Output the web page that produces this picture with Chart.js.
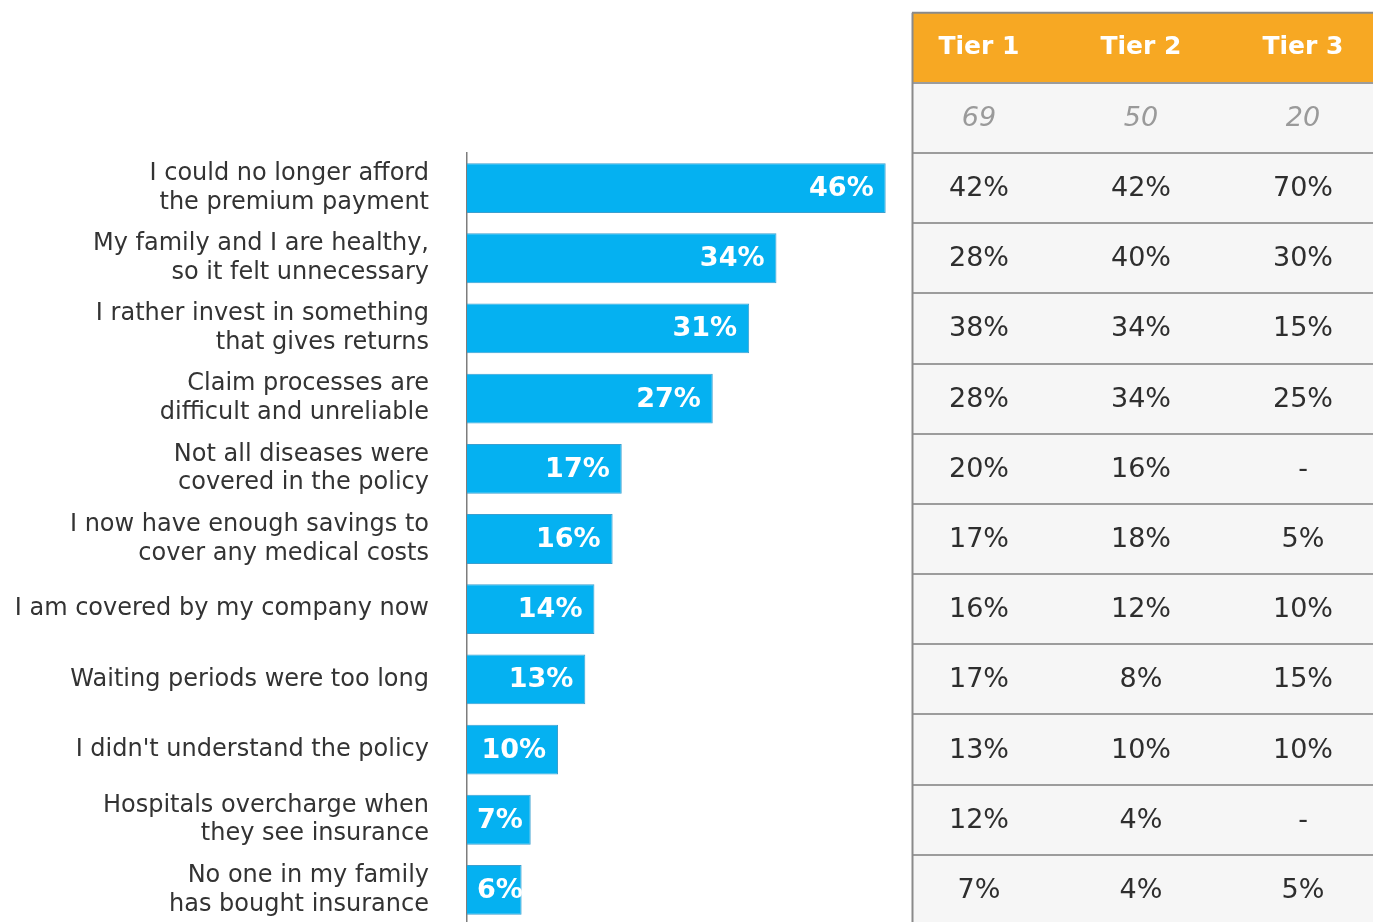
<!DOCTYPE html>
<html>
<head>
<meta charset="utf-8">
<script src="https://cdn.jsdelivr.net/npm/chart.js@4.4.1/dist/chart.umd.min.js"></script>
<style>
  html, body { margin: 0; padding: 0; background: #fff; overflow: hidden; }
  canvas { display: block; }
</style>
</head>
<body>
<canvas id="chart" width="1373" height="925"></canvas>
<script>
// --- Data ---
const reasons = [
  ['I could no longer afford', 'the premium payment'],
  ['My family and I are healthy,', 'so it felt unnecessary'],
  ['I rather invest in something', 'that gives returns'],
  ['Claim processes are', 'difficult and unreliable'],
  ['Not all diseases were', 'covered in the policy'],
  ['I now have enough savings to', 'cover any medical costs'],
  'I am covered by my company now',
  'Waiting periods were too long',
  "I didn't understand the policy",
  ['Hospitals overcharge when', 'they see insurance'],
  ['No one in my family', 'has bought insurance']
];
const overall = [46, 34, 31, 27, 17, 16, 14, 13, 10, 7, 6];

const tierNames = ['Tier 1', 'Tier 2', 'Tier 3'];
const tierSamples = [69, 50, 20];
const tier1 = [42, 28, 38, 28, 20, 17, 16, 17, 13, 12, 7];
const tier2 = [42, 40, 34, 34, 16, 18, 12, 8, 10, 4, 4];
const tier3 = [70, 30, 15, 25, null, 5, 10, 15, 10, null, 5];

const FONT = '"DejaVu Sans", sans-serif';

// white % labels at the end of each bar
const barValues = {
  id: 'barValues',
  afterDatasetsDraw(chart) {
    const ctx = chart.ctx;
    const meta = chart.getDatasetMeta(0);
    ctx.save();
    ctx.font = 'bold 27px ' + FONT;
    ctx.fillStyle = '#fff';
    ctx.textAlign = 'right';
    ctx.textBaseline = 'middle';
    meta.data.forEach((bar, i) => {
      const txt = overall[i] + '%';
      const w = ctx.measureText(txt).width;
      const x = Math.max(bar.x - 12, bar.base + 10 + w);
      ctx.fillText(txt, x, bar.y + 1);
    });
    ctx.restore();
  }
};

// tier breakdown table to the right, rows follow the y scale
const tierTable = {
  id: 'tierTable',
  afterDraw(chart) {
    const ctx = chart.ctx;
    const y = chart.scales.y;
    const pitch = y.getPixelForValue(1) - y.getPixelForValue(0);
    const left = 912, right = chart.width;
    const cols = [979, 1141, 1303];
    const top = y.getPixelForValue(0) - pitch / 2;
    const tiers = [tier1, tier2, tier3];

    ctx.save();
    // body background
    ctx.fillStyle = '#f6f6f6';
    ctx.fillRect(left, top - pitch, right - left, chart.height);
    // header
    ctx.fillStyle = '#F7A823';
    ctx.fillRect(left, top - 2 * pitch, right - left, pitch);

    ctx.textAlign = 'center';
    ctx.textBaseline = 'middle';
    ctx.font = 'bold 25px ' + FONT;
    ctx.fillStyle = '#fff';
    tierNames.forEach((t, c) => ctx.fillText(t, cols[c], top - 1.5 * pitch));

    ctx.font = 'oblique 27px ' + FONT;
    ctx.fillStyle = '#9a9a9a';
    tierSamples.forEach((n, c) => ctx.fillText(String(n), cols[c], top - 0.5 * pitch + 1));

    ctx.font = '27px ' + FONT;
    ctx.fillStyle = '#2e2e2e';
    reasons.forEach((r, i) => {
      const cy = y.getPixelForValue(i);
      tiers.forEach((vals, c) => {
        const v = vals[i];
        ctx.fillText(v == null ? '-' : v + '%', cols[c], cy + 1);
      });
    });

    // separators
    ctx.strokeStyle = '#9c9c9c';
    ctx.lineWidth = 2;
    for (let i = -1; i <= reasons.length; i++) {
      const ly = Math.round(top + i * pitch);
      ctx.beginPath();
      ctx.moveTo(left, ly);
      ctx.lineTo(right, ly);
      ctx.stroke();
    }
    ctx.strokeStyle = '#8a8a8a';
    ctx.beginPath();
    ctx.moveTo(left, top - 2 * pitch);
    ctx.lineTo(right, top - 2 * pitch);
    ctx.moveTo(left + 0.5, top - 2 * pitch);
    ctx.lineTo(left + 0.5, chart.height);
    ctx.stroke();
    ctx.restore();
  }
};

new Chart(document.getElementById('chart'), {
  type: 'bar',
  data: {
    labels: reasons,
    datasets: [{
      data: overall,
      backgroundColor: '#05B1F1',
      borderColor: '#3b9fcf',
      borderWidth: 1,
      borderSkipped: 'left',
      barPercentage: 0.71,
      categoryPercentage: 1
    }]
  },
  options: {
    indexAxis: 'y',
    responsive: false,
    animation: false,
    devicePixelRatio: 1,
    layout: { padding: { left: 0, right: 460, top: 153, bottom: 0 } },
    plugins: {
      legend: { display: false },
      tooltip: { enabled: false }
    },
    scales: {
      x: { display: false, min: 0, max: 49 },
      y: {
        // fixed axis width; drop the label overhang padding so rows fill the height
        afterFit(scale) {
          scale.width = 467;
          scale.paddingTop = 0;
          scale.paddingBottom = 0;
        },
        grid: { display: false, drawTicks: false },
        border: { display: true, color: '#7d7d7d', width: 1.5 },
        ticks: {
          padding: 38,
          color: '#333',
          font: { family: FONT, size: 24, lineHeight: 1.2 }
        }
      }
    }
  },
  plugins: [barValues, tierTable]
});
</script>
</body>
</html>
